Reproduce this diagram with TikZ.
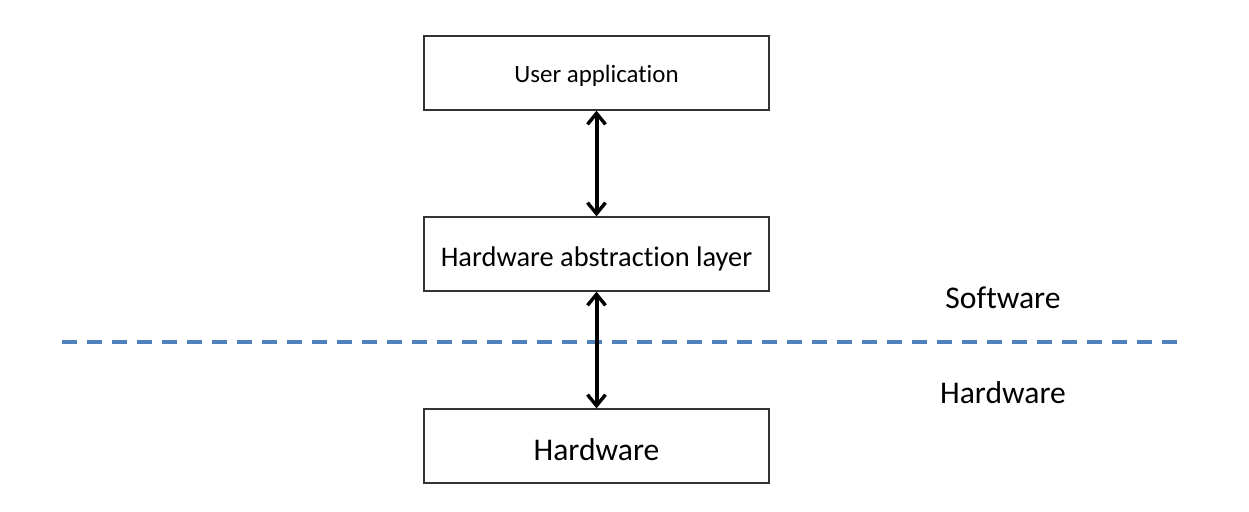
\documentclass[tikz,border=0pt]{standalone}
\usepackage{fontspec}
\setmainfont{Carlito}[Ligatures={NoCommon}]
\usetikzlibrary{arrows.meta}
\begin{document}
\begin{tikzpicture}[x=1pt,y=-1pt,
  layerbox/.style={draw=black!80, line width=1.3pt, minimum width=345pt, minimum height=74pt, inner sep=0pt, fill=white},
  link/.style={line width=4pt, {Straight Barb[length=11pt,width=18pt,line width=3.4pt]}-{Straight Barb[length=11pt,width=18pt,line width=3.4pt]}},
  divider/.style={draw={rgb,255:red,79;green,129;blue,189}, line width=4pt, dash pattern=on 15pt off 10pt}
]
\useasboundingbox (0,0) rectangle (1249,511);
\coordinate (dl) at (62,342);
\coordinate (dr) at (1182,342);
\draw[divider] (dl) -- (dr);
\node[layerbox, label={[font=\fontsize{24.9}{30}\selectfont, yshift=-3pt]center:User application}] (app) at (596.5,73) {};
\node[layerbox, label={[font=\fontsize{28.4}{34}\selectfont, yshift=-5pt]center:Hardware abstraction layer}] (hal) at (596.5,254) {};
\node[layerbox, label={[font=\fontsize{31.6}{38}\selectfont, yshift=-4pt]center:Hardware}] (hw) at (596.5,446) {};
\node[font=\fontsize{31.6}{38}\selectfont] (sw) at (1003,298) {Software};
\node[font=\fontsize{31.6}{38}\selectfont] (hwl) at (1003,393) {Hardware};
\draw[link] (app.south) -- (hal.north);
\draw[link] (hal.south) -- (hw.north);
\end{tikzpicture}
\end{document}
